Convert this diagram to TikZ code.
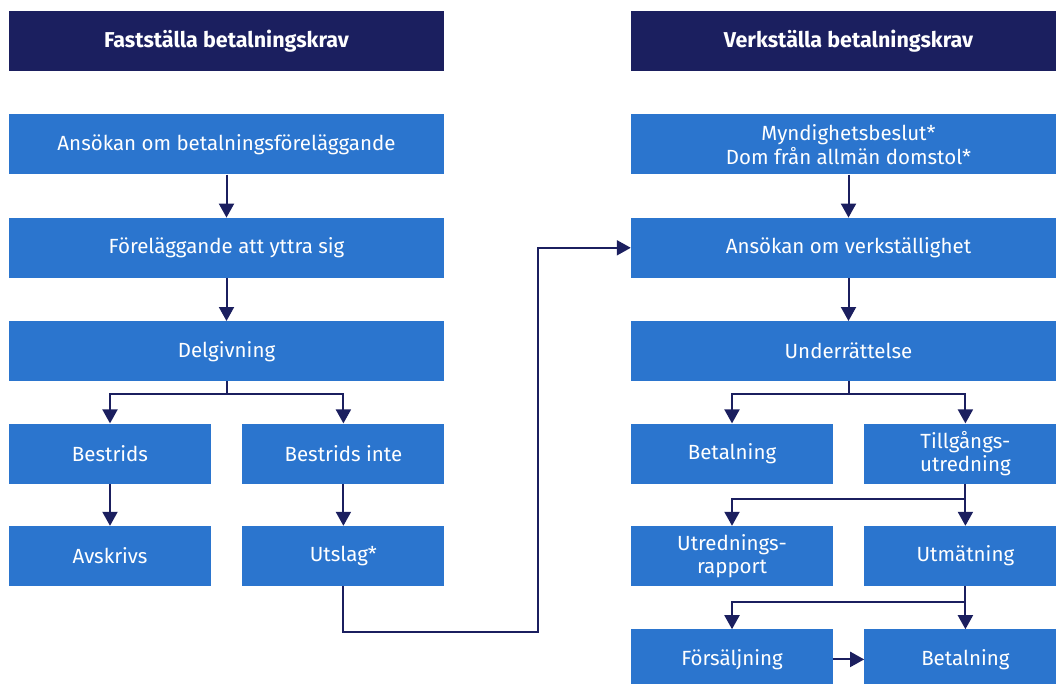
\documentclass[tikz,border=0pt]{standalone}
\usepackage{fontspec}
\setmainfont{Fira Sans}
\usepackage{xcolor}
\usetikzlibrary{arrows.meta}
\usetikzlibrary{positioning}

\definecolor{boxblue}{HTML}{2B75CE}
\definecolor{navy}{HTML}{1B1F5F}
\newcommand{\boxfont}{\fontsize{20.5}{23.5}\selectfont}
\newcommand{\headfont}{\fontsize{21.5}{24}\selectfont\bfseries}

\begin{document}
\begin{tikzpicture}[x=1pt,y=-1pt,>={Triangle[length=14pt,width=15pt]},node distance=43pt and 31pt]
 				 \tikzstyle{box}=[fill=boxblue, text=white, minimum width=435pt, minimum height=60pt, inner sep=0pt, align=center, font=\boxfont]
 				 \tikzstyle{half}=[box, minimum width=202pt]
 				 \tikzstyle{head}=[box, fill=navy, font=\headfont]
 				 \tikzstyle{link}=[->, draw=navy, line width=2pt]
 				 \useasboundingbox (0,0) rectangle (1056,684);
 				 % left column
 					 \node[head] 			(hL) at (226.5,41)          {Fastställa betalningskrav};
 					 \node[box] 			(ansok) [below=of hL]        {Ansökan om betalningsföreläggande};
 					 \node[box] 			(fore) [below=of ansok]      {Föreläggande att yttra sig};
 					 \node[box] 			(delg) [below=of fore]       {Delgivning};
 					 \node[half] 			(bestr) [below=42pt of delg.south west, anchor=north west] {Bestrids};
 					 \node[half] 			(binte) [right=of bestr]     {Bestrids inte};
 					 \node[half] 			(avskr) [below=42pt of bestr] {Avskrivs};
 					 \node[half] 			(utslag) [below=42pt of binte] {Utslag*};
 				 % right column
 					 \node[head] 			(hR) at (848.5,41)          {Verkställa betalningskrav};
 					 \node[box] 			(mynd) [below=of hR]         {Myndighetsbeslut*\\Dom från allmän domstol*};
 					 \node[box] 			(verk) [below=of mynd]       {Ansökan om verkställighet};
 					 \node[box] 			(under) [below=of verk]      {Underrättelse};
 					 \node[half] 			(betA) [below=42pt of under.south west, anchor=north west] {Betalning};
 					 \node[half] 			(tillg) [right=of betA]      {Tillgångs-\\utredning};
 					 \node[half] 			(utred) [below=42pt of betA] {Utrednings-\\rapport};
 					 \node[half] 			(utmat) [below=42pt of tillg] {Utmätning};
 					 \node[half] 			(fors) [below=of utred]      {Försäljning};
 					 \node[half] 			(betB) [below=of utmat]      {Betalning};
 					 \coordinate           (bend) at (538,632);
				\draw[link] (ansok) -- (fore);
				\draw[link] (fore) -- (delg);
				\draw[link] (delg.south) -- ++(0,13) -| (bestr.north);
				\draw[link] (delg.south) -- ++(0,13) -| (binte.north);
				\draw[link] (bestr) -- (avskr);
				\draw[link] (binte) -- (utslag);
				\draw[link] (utslag.south) |- (bend) |- (verk.west);
				\draw[link] (mynd) -- (verk);
				\draw[link] (verk) -- (under);
				\draw[link] (under.south) -- ++(0,13) -| (betA.north);
				\draw[link] (under.south) -- ++(0,13) -| (tillg.north);
				\draw[link] (tillg.south) -- ++(0,15) -| (utred.north);
				\draw[link] (tillg) -- (utmat);
				\draw[link] (utmat.south) -- ++(0,16) -| (fors.north);
				\draw[link] (utmat) -- (betB);
				\draw[link] (fors) -- (betB);
\end{tikzpicture}
\end{document}
